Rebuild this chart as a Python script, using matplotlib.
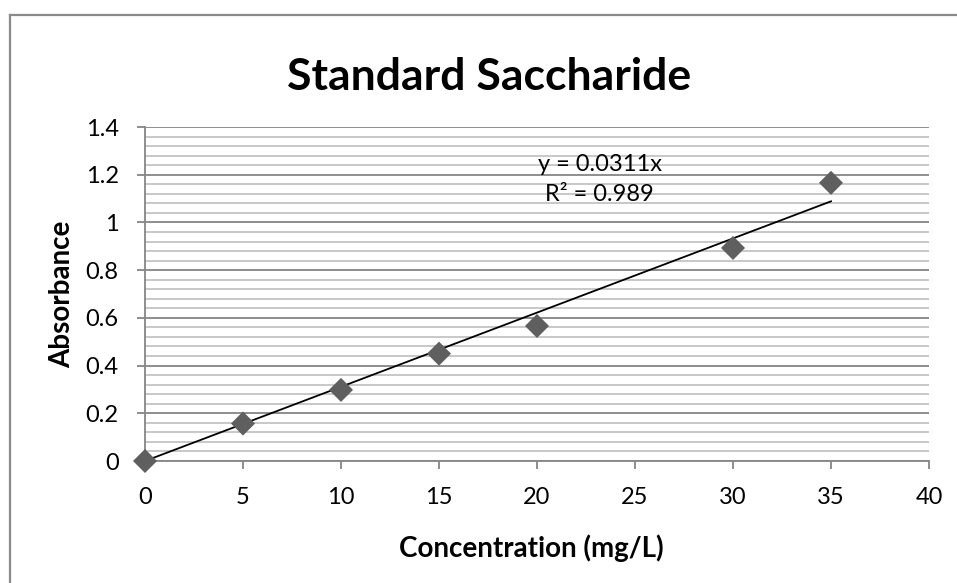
import matplotlib
matplotlib.use("Agg")
import matplotlib.pyplot as plt
from matplotlib.lines import Line2D
from matplotlib.ticker import MultipleLocator
import numpy as np

plt.rcParams['font.family'] = ['Lato', 'DejaVu Sans']

# Calibration data
concentration = [0, 5, 10, 15, 20, 30, 35]
absorbance = [0.0, 0.157, 0.298, 0.450, 0.566, 0.893, 1.166]
slope = 0.0311
r_squared = 0.989

title = "Standard Saccharide"
x_label = "Concentration (mg/L)"
y_label = "Absorbance"
x_ticks = [0, 5, 10, 15, 20, 25, 30, 35, 40]
y_ticks = [0, 0.2, 0.4, 0.6, 0.8, 1.0, 1.2, 1.4]
y_tick_labels = ["0", "0.2", "0.4", "0.6", "0.8", "1", "1.2", "1.4"]

W, H = 957, 583
fig = plt.figure(figsize=(W / 100, H / 100), dpi=100)
ax = fig.add_axes([145 / W, 1 - 461 / H, (929 - 145) / W, (461 - 127) / H])

# chart border
border_kw = dict(color="#8a8a8a", linewidth=1.6, transform=fig.transFigure)
fig.add_artist(Line2D([9.5 / W, 1.0], [1 - 14.5 / H, 1 - 14.5 / H], **border_kw))
fig.add_artist(Line2D([9.5 / W, 9.5 / W], [0, 1 - 14.5 / H], **border_kw))

ax.set_xlim(0, 40)
ax.set_ylim(0, 1.4)
ax.set_xticks(x_ticks)
ax.set_yticks(y_ticks)
ax.set_yticklabels(y_tick_labels)
ax.yaxis.set_minor_locator(MultipleLocator(0.04))

ax.grid(which="major", axis="y", color="#868686", linewidth=1.3, zorder=0)
ax.grid(which="minor", axis="y", color="#c4c4c4", linewidth=1.3, zorder=0)
ax.set_axisbelow(True)

for side in ("top", "right"):
    ax.spines[side].set_visible(False)
for side in ("left", "bottom"):
    ax.spines[side].set_color("#868686")
    ax.spines[side].set_linewidth(1.3)

ax.tick_params(axis="both", which="major", direction="out", length=6, width=1.3,
               color="#868686", labelsize=17, labelcolor="black")
ax.tick_params(axis="x", pad=13)
ax.tick_params(axis="y", pad=13)
ax.tick_params(axis="y", which="minor", length=0)

# linear fit through origin
fit_x = np.array([concentration[0], concentration[-1]])
ax.plot(fit_x, slope * fit_x, color="black", linewidth=1.3, zorder=3, clip_on=False)

ax.scatter(concentration, absorbance, marker="D", s=150, color="#5f5f5f",
           edgecolors="none", zorder=4, clip_on=False)

# equation labels, placed in pixel coordinates measured from the top-left
def px(x, y):
    return x / W, 1 - y / H

fig.text(*px(600, 165), f"y = {slope}x", fontsize=17, ha="center", va="center")
fig.text(*px(599, 195), f"R² = {r_squared}", fontsize=17, ha="center", va="center")

fig.text(*px(489, 77), title, fontsize=32, fontweight="bold",
         ha="center", va="center")
fig.text(*px(531, 548), x_label, fontsize=20, fontweight="bold",
         ha="center", va="center")
fig.text(*px(62, 294), y_label, fontsize=20, fontweight="bold",
         ha="center", va="center", rotation=90)

fig.savefig("out.png", dpi=100, facecolor="white")
